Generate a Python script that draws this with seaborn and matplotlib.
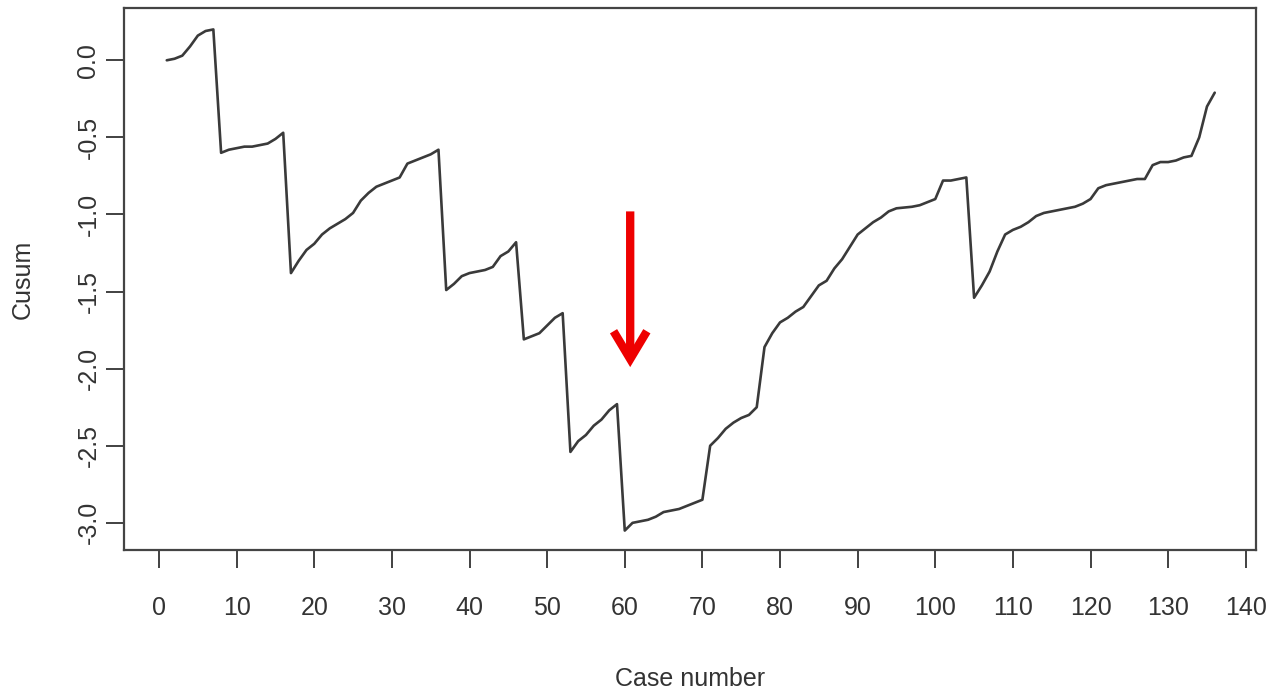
import numpy as np
import pandas as pd
import matplotlib
matplotlib.use("Agg")
import matplotlib.pyplot as plt
import seaborn as sns

# cusum values, case 1..136
cusum = [
    0.00, 0.01, 0.03, 0.09, 0.16, 0.19, 0.20, -0.60, -0.58, -0.57,
    -0.56, -0.56, -0.55, -0.54, -0.51, -0.47, -1.38, -1.30, -1.23, -1.19,
    -1.13, -1.09, -1.06, -1.03, -0.99, -0.91, -0.86, -0.82, -0.80, -0.78,
    -0.76, -0.67, -0.65, -0.63, -0.61, -0.58, -1.49, -1.45, -1.40, -1.38,
    -1.37, -1.36, -1.34, -1.27, -1.24, -1.18, -1.81, -1.79, -1.77, -1.72,
    -1.67, -1.64, -2.54, -2.47, -2.43, -2.37, -2.33, -2.27, -2.23, -3.05,
    -3.00, -2.99, -2.98, -2.96, -2.93, -2.92, -2.91, -2.89, -2.87, -2.85,
    -2.50, -2.45, -2.39, -2.35, -2.32, -2.30, -2.25, -1.86, -1.77, -1.70,
    -1.67, -1.63, -1.60, -1.53, -1.46, -1.43, -1.35, -1.29, -1.21, -1.13,
    -1.09, -1.05, -1.02, -0.98, -0.96, -0.955, -0.95, -0.94, -0.92, -0.90,
    -0.78, -0.78, -0.77, -0.76, -1.54, -1.46, -1.37, -1.24, -1.13, -1.10,
    -1.08, -1.05, -1.01, -0.99, -0.98, -0.97, -0.96, -0.95, -0.93, -0.90,
    -0.83, -0.81, -0.80, -0.79, -0.78, -0.77, -0.77, -0.68, -0.66, -0.66,
    -0.65, -0.63, -0.62, -0.50, -0.30, -0.21,
]
case = list(range(1, len(cusum) + 1))

x_ticks = list(range(0, 141, 10))
y_ticks = [0.0, -0.5, -1.0, -1.5, -2.0, -2.5, -3.0]
y_labels = ["0.0", "-0.5", "-1.0", "-1.5", "-2.0", "-2.5", "-3.0"]

# arrow marking the case where the curve turns
arrow_case = 60.7
arrow_top = -0.98
arrow_tip = -1.99

df = pd.DataFrame({"Case number": case, "Cusum": cusum})

sns.set_style("white")
plt.rcParams["font.family"] = ["Liberation Sans Narrow", "Liberation Sans", "DejaVu Sans"]
plt.rcParams["axes.unicode_minus"] = False

fig = plt.figure(figsize=(12.66, 6.94), dpi=100)
ax = fig.add_axes([0.098, 0.2075, 0.894, 0.7805])

sns.lineplot(data=df, x="Case number", y="Cusum", color="#3a3a3a", linewidth=1.9, ax=ax)

ax.annotate("", xy=(arrow_case, arrow_tip), xytext=(arrow_case, arrow_top),
            arrowprops=dict(arrowstyle="->,head_length=1.0,head_width=0.6",
                            mutation_scale=20, color="#ee0000", lw=6,
                            shrinkA=0, shrinkB=0, joinstyle="miter",
                            capstyle="butt"))

ax.set_xlim(-4.5, 141.3)
ax.set_ylim(-3.176, 0.337)
ax.set_xticks(x_ticks)
ax.set_xticklabels([str(t) for t in x_ticks])
ax.set_yticks(y_ticks)
ax.set_yticklabels(y_labels, rotation=90, va="center")

ax.tick_params(axis="both", direction="out", length=13, width=1.3, color="#333333",
               labelsize=18, labelcolor="#333333", bottom=True, left=True)
ax.tick_params(axis="x", pad=20)
ax.tick_params(axis="y", pad=4)

ax.set_xlabel("Case number", fontsize=18, color="#333333", labelpad=34)
ax.set_ylabel("Cusum", fontsize=18, color="#333333", labelpad=30)

for s in ax.spines.values():
    s.set_color("#444444")
    s.set_linewidth(1.6)

fig.savefig("out.png", dpi=100)
